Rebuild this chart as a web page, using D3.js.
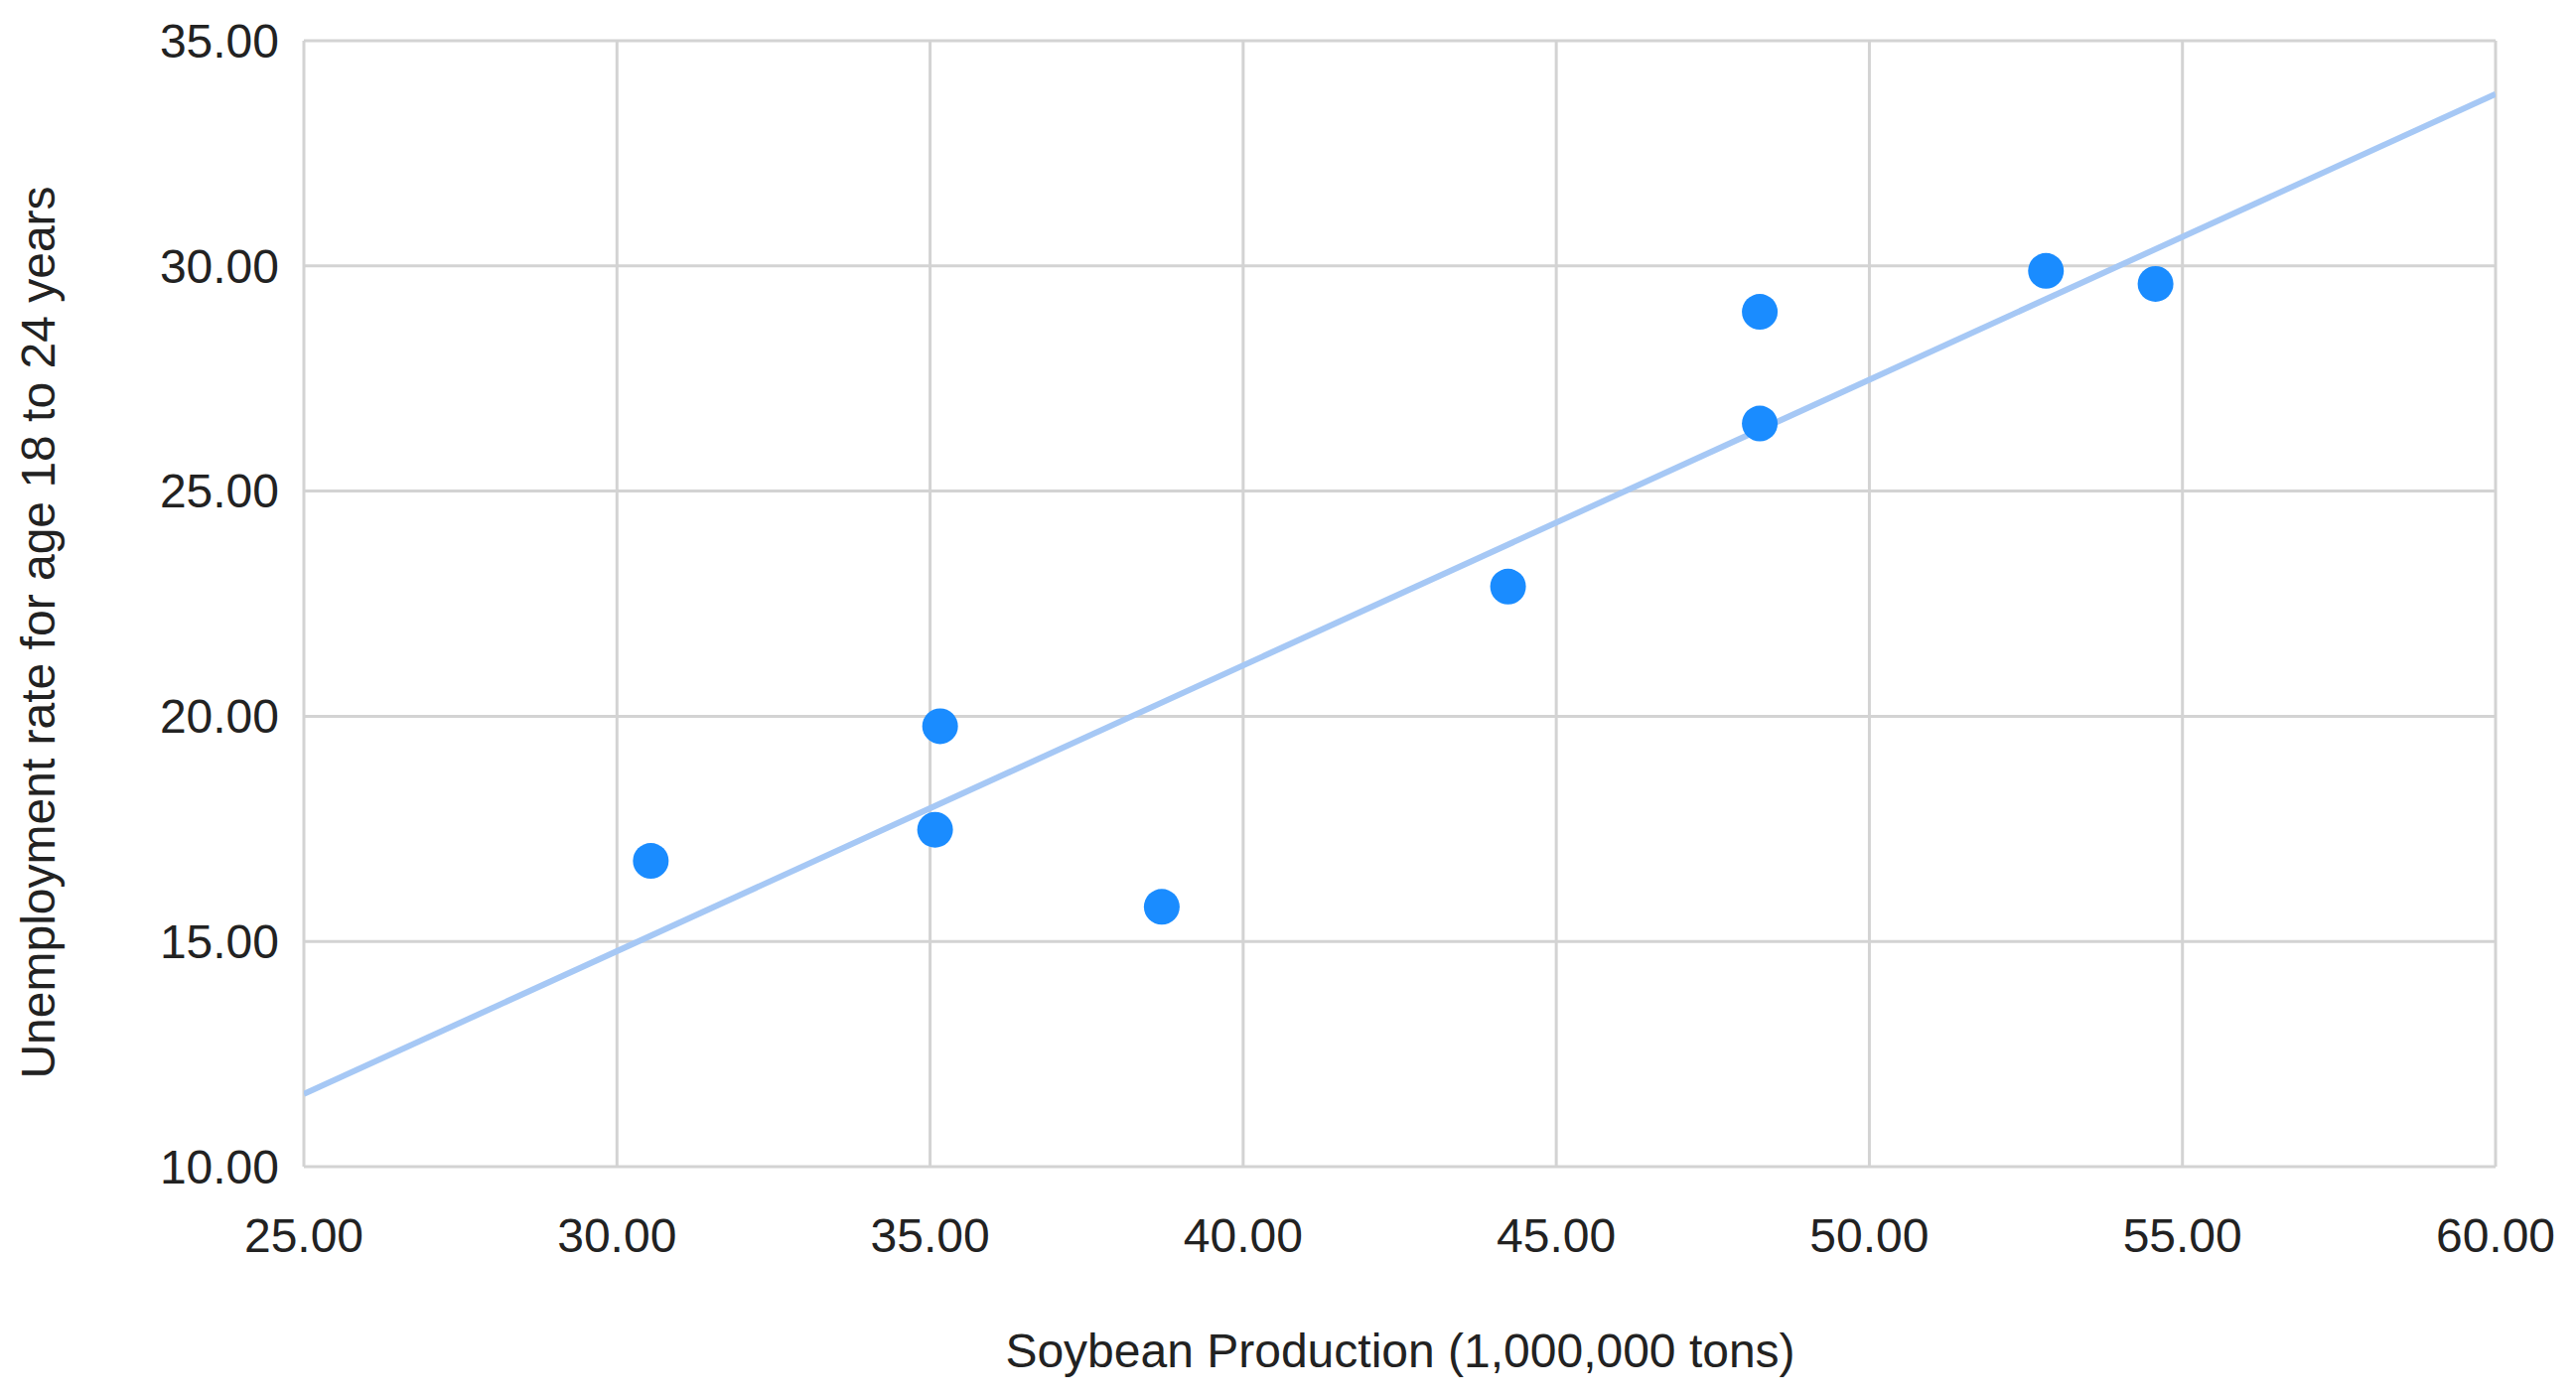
<!DOCTYPE html>
<html><head><meta charset="utf-8">
<script src="https://cdn.jsdelivr.net/npm/d3@7"></script>
<style>body{margin:0;background:#fff}text{font-family:"Liberation Sans",Arial,sans-serif;fill:#222}</style>
</head><body><svg id="c" width="2594" height="1407"></svg>
<script>
const soybean = [30.54, 35.16, 35.08, 38.70, 44.23, 48.25, 48.25, 52.82, 54.57]
const unemployment = [16.79, 19.78, 17.48, 15.77, 22.88, 28.98, 26.50, 29.89, 29.60]
const xTicks = [25, 30, 35, 40, 45, 50, 55, 60]
const yTicks = [10, 15, 20, 25, 30, 35]

const svg = d3.select("#c")
const plotL = 306, plotR = 2513, plotT = 41, plotB = 1175
const x = d3.scaleLinear().domain([25, 60]).range([plotL, plotR])
const y = d3.scaleLinear().domain([10, 35]).range([plotB, plotT])

// grid
svg.selectAll(".gx").data(xTicks).join("line")
  .attr("x1", d => x(d)).attr("x2", d => x(d)).attr("y1", plotT).attr("y2", plotB)
  .attr("stroke", "#d3d3d3").attr("stroke-width", 3)
svg.selectAll(".gy").data(yTicks).join("line")
  .attr("y1", d => y(d)).attr("y2", d => y(d)).attr("x1", plotL).attr("x2", plotR)
  .attr("stroke", "#d3d3d3").attr("stroke-width", 3)

// tick labels
svg.selectAll(".tx").data(xTicks).join("text")
  .attr("x", d => x(d)).attr("y", 1244).attr("dy", "0.35em")
  .attr("text-anchor", "middle").attr("font-size", 48).text(d => d.toFixed(2))
svg.selectAll(".ty").data(yTicks).join("text")
  .attr("x", 281).attr("y", d => y(d)).attr("dy", "0.35em")
  .attr("text-anchor", "end").attr("font-size", 48).text(d => d.toFixed(2))

// trendline (least squares)
const pts = soybean.map((v, i) => [v, unemployment[i]])
const mx = d3.mean(soybean), my = d3.mean(unemployment)
const slope = d3.sum(pts, p => (p[0] - mx) * (p[1] - my)) / d3.sum(pts, p => (p[0] - mx) ** 2)
const icpt = my - slope * mx
svg.append("clipPath").attr("id", "clip").append("rect")
  .attr("x", plotL).attr("y", plotT).attr("width", plotR - plotL).attr("height", plotB - plotT)
svg.append("line").attr("clip-path", "url(#clip)")
  .attr("x1", x(25)).attr("y1", y(icpt + slope * 25))
  .attr("x2", x(60)).attr("y2", y(icpt + slope * 60))
  .attr("stroke", "#a6c8f5").attr("stroke-width", 6)

svg.selectAll(".pt").data(pts).join("circle")
  .attr("cx", d => x(d[0])).attr("cy", d => y(d[1])).attr("r", 18)
  .attr("fill", "#1a8cff")

// axis titles
svg.append("text").attr("x", 1410).attr("y", 1360).attr("dy", "0.35em")
  .attr("text-anchor", "middle").attr("font-size", 48).text("Soybean Production (1,000,000 tons)")
svg.append("text").attr("transform", "translate(38,637) rotate(-90)").attr("dy", "0.35em")
  .attr("text-anchor", "middle").attr("font-size", 48).text("Unemployment rate for age 18 to 24 years")
</script></body></html>
